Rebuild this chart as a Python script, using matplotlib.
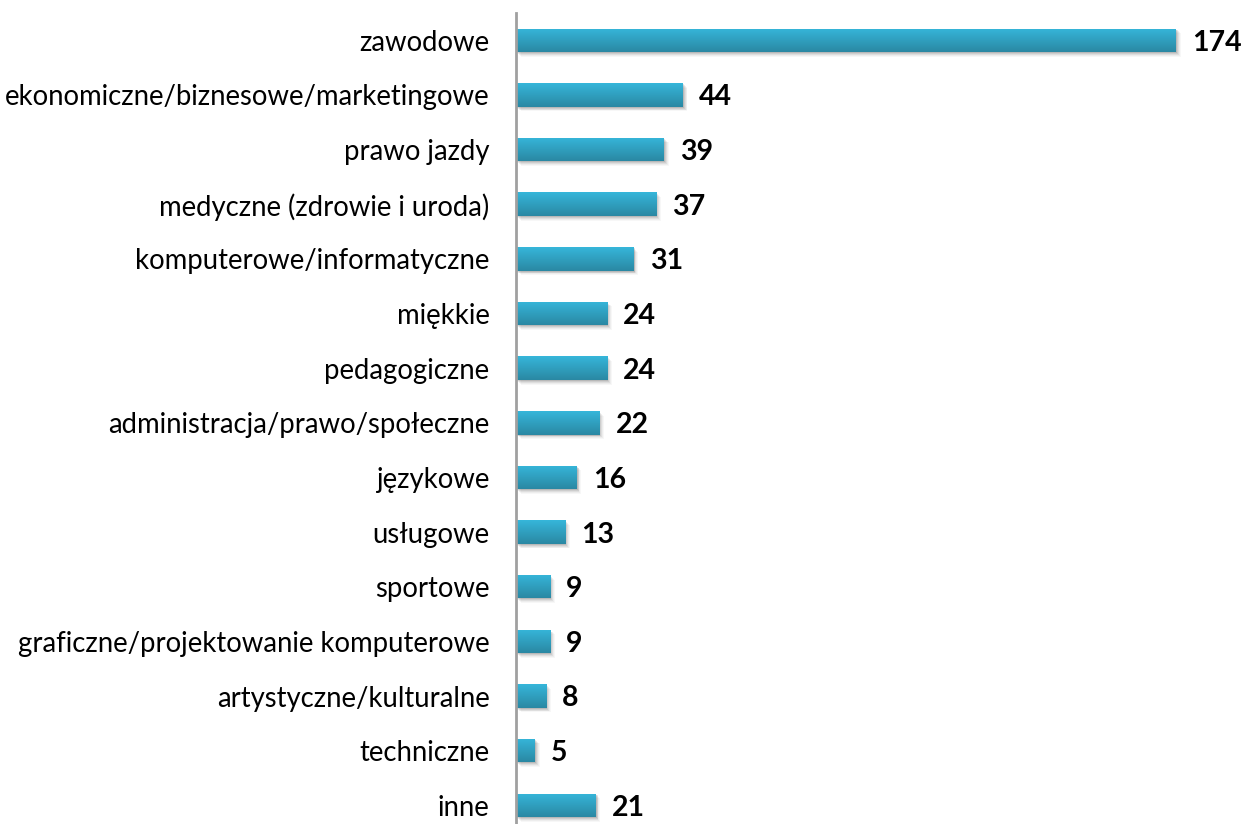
import matplotlib
matplotlib.use("Agg")
import matplotlib.pyplot as plt
import numpy as np
from matplotlib.colors import LinearSegmentedColormap
from matplotlib.patches import Rectangle
import matplotlib.transforms as mtransforms

categories = [
    "zawodowe",
    "ekonomiczne/biznesowe/marketingowe",
    "prawo jazdy",
    "medyczne (zdrowie i uroda)",
    "komputerowe/informatyczne",
    "miękkie",
    "pedagogiczne",
    "administracja/prawo/społeczne",
    "językowe",
    "usługowe",
    "sportowe",
    "graficzne/projektowanie komputerowe",
    "artystyczne/kulturalne",
    "techniczne",
    "inne",
]
values = [174, 44, 39, 37, 31, 24, 24, 22, 16, 13, 9, 9, 8, 5, 21]

plt.rcParams['font.family'] = ['Lato', 'DejaVu Sans']

W, H = 1248, 824
fig = plt.figure(figsize=(W / 100, H / 100), dpi=100)
ax_left, ax_right = 516, 1230
ax_top = 13
ax = fig.add_axes([ax_left / W, 0, (ax_right - ax_left) / W, (H - ax_top) / H])

px_per_unit = (1176 - 516) / 174
ax.set_xlim(0, (ax_right - ax_left) / px_per_unit)
step = 54.64
ax.set_ylim((H - ax_top) / step - 0.5, -0.5)

y = np.arange(len(categories))
bh = 0.43
bars = ax.barh(y, values, height=bh, color='#31A9CB', zorder=3)

cmap = LinearSegmentedColormap.from_list('g', ['#36B6DA', '#2A88A3'])
grad = np.linspace(0, 1, 64).reshape(-1, 1)
for b, yi, v in zip(bars, y, values):
    # soft shadow
    for k, a in enumerate([0.10, 0.08, 0.06, 0.04, 0.03]):
        off = mtransforms.offset_copy(ax.transData, fig=fig, x=1 + k * 0.9, y=-(1 + k * 0.9), units='dots')
        sh = Rectangle((0, yi - bh / 2), v, bh, transform=off, color='black', alpha=a, lw=0, zorder=2)
        ax.add_patch(sh)
    im = ax.imshow(grad, extent=[0, v, yi + bh / 2, yi - bh / 2], aspect='auto',
                   cmap=cmap, zorder=4, interpolation='bilinear')
    im.set_clip_path(b)
    ax.text(v + 16 / px_per_unit, yi, str(v), va='center_baseline', ha='left',
            fontsize=20.5, fontweight='bold', color='black', zorder=5)

ax.set_yticks(y)
ax.set_yticklabels(categories, fontsize=19.8)
ax.tick_params(axis='y', length=0, pad=19)
ax.set_xticks([])
for s in ['top', 'right', 'bottom']:
    ax.spines[s].set_visible(False)
ax.spines['left'].set_color('#A0A0A0')
ax.spines['left'].set_linewidth(2)
ax.spines['left'].set_zorder(6)

fig.savefig('out.png', dpi=100)
